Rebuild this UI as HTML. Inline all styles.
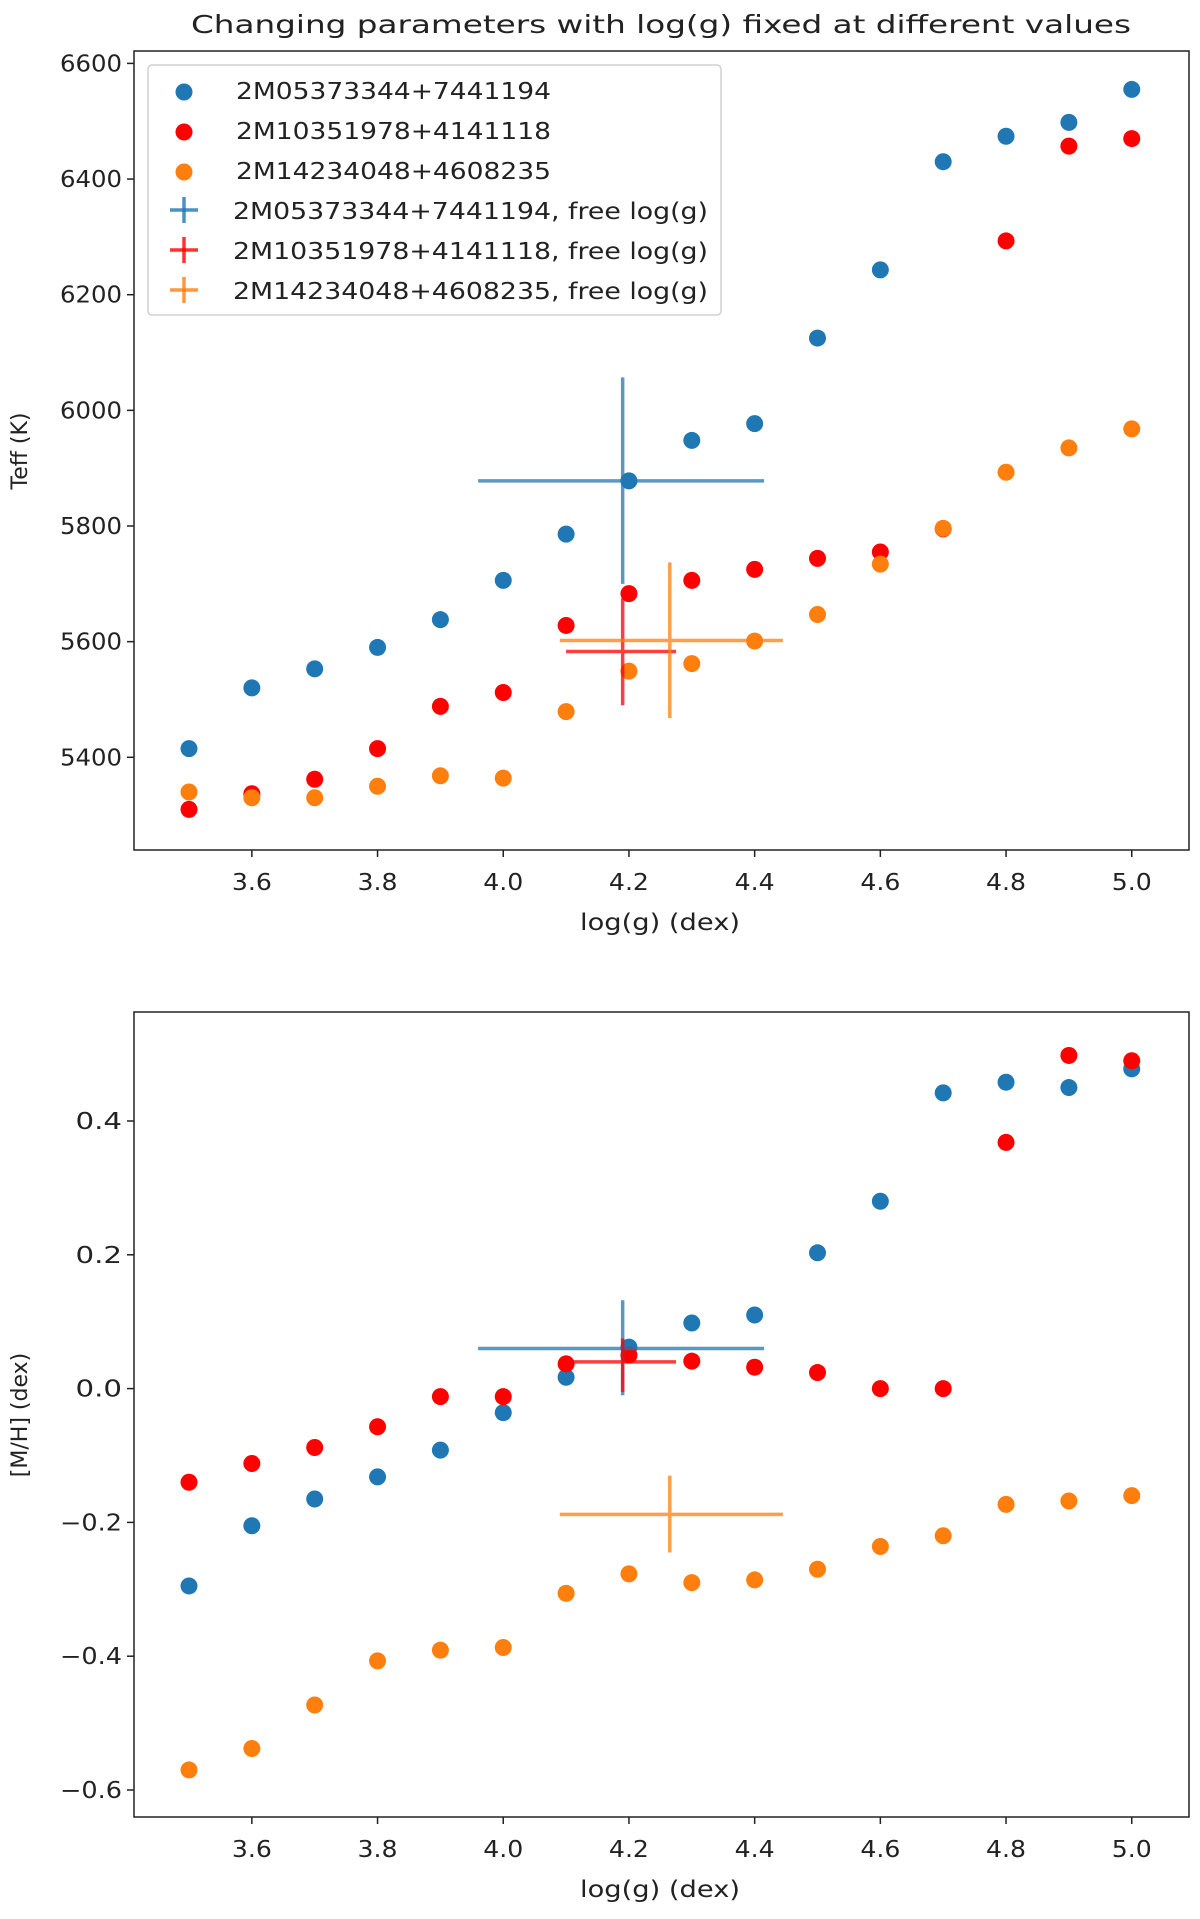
<!DOCTYPE html>
<html><head><meta charset="utf-8"><style>
html,body{margin:0;padding:0;background:#fff}
svg{display:block}
text{font-family:"DejaVu Sans","Liberation Sans",sans-serif;fill:#222}
</style></head>
<body>
<svg id="fig" width="1200" height="1919" viewBox="0 0 1200 1919"></svg>
<script>
const logg = [3.5,3.6,3.7,3.8,3.9,4.0,4.1,4.2,4.3,4.4,4.5,4.6,4.7,4.8,4.9,5.0];
const teffBlue = [5415,5520,5553,5590,5638,5706,5786,5878,5948,5977,6125,6243,6430,6474,6498,6555];
const teffRed = [5310,5337,5362,5415,5488,5512,5628,5683,5706,5725,5744,5755,5795,6293,6457,6470];
const teffOrange = [5340,5330,5330,5350,5368,5364,5479,5549,5562,5601,5647,5734,5796,5893,5935,5968];
const mhBlue = [-0.295,-0.205,-0.165,-0.132,-0.092,-0.036,0.017,0.062,0.098,0.110,0.203,0.280,0.442,0.458,0.450,0.478];
const mhRed = [-0.140,-0.112,-0.088,-0.057,-0.012,-0.012,0.037,0.050,0.041,0.032,0.024,0.000,0.000,0.368,0.498,0.490];
const mhOrange = [-0.570,-0.538,-0.473,-0.407,-0.391,-0.387,-0.306,-0.277,-0.290,-0.286,-0.270,-0.236,-0.220,-0.173,-0.168,-0.160];
// free log(g) fits: [x, xlo, xhi, y, ylo, yhi]
const freeTeffBlue = [4.19,3.96,4.415,5878,5700,6057];
const freeTeffRed = [4.19,4.10,4.275,5583,5490,5675];
const freeTeffOrange = [4.265,4.09,4.445,5602,5468,5737];
const freeMhBlue = [4.19,3.96,4.415,0.060,-0.010,0.132];
const freeMhRed = [4.19,4.10,4.275,0.040,-0.005,0.075];
const freeMhOrange = [4.265,4.09,4.445,-0.188,-0.245,-0.130];
const xTicks = [3.6,3.8,4.0,4.2,4.4,4.6,4.8,5.0];
const teffTicks = [5400,5600,5800,6000,6200,6400,6600];
const mhTicks = [-0.6,-0.4,-0.2,0.0,0.2,0.4];
const names = ["2M05373344+7441194","2M10351978+4141118","2M14234048+4608235"];

const NS="http://www.w3.org/2000/svg";
const svg=document.getElementById('fig');
const C=['#1f77b4','#ff0000','#ff7f0e'];
function mk(tag,attrs,parent){const e=document.createElementNS(NS,tag);for(const k in attrs)e.setAttribute(k,attrs[k]);(parent||svg).appendChild(e);return e;}
const xs=v=>189+(v-3.5)*628.5;

function panel(name,top,bottom,yv0,yp0,yv1,yp1,ticks,fmt,ylabel,ylabelY,series,frees){
  const g=mk('g',{});
  
  
  const ys=v=>yp0+(v-yv0)*(yp1-yp0)/(yv1-yv0);
  xTicks.forEach(t=>{
    const l=mk('line',{x1:xs(t),x2:xs(t),y1:bottom,y2:bottom+7,stroke:'#222','stroke-width':1.5},g);
    
    
    const tx=mk('text',{x:xs(t),y:bottom+40,'text-anchor':'middle','font-size':23,textLength:40,lengthAdjust:'spacingAndGlyphs'},g);
    tx.textContent=t.toFixed(1);
    
    
  });
  ticks.forEach(t=>{
    const y=ys(t);
    const l=mk('line',{x1:134-7,x2:134,y1:y,y2:y,stroke:'#222','stroke-width':1.5},g);
    
    
    const s=fmt(t);
    const tx=mk('text',{x:122,y:y+8,'text-anchor':'end','font-size':23,textLength:s.length*15.5,lengthAdjust:'spacingAndGlyphs'},g);
    tx.textContent=s;
    
    
  });
  const xl=mk('text',{x:660,y:bottom+80,'text-anchor':'middle','font-size':23,textLength:160,lengthAdjust:'spacingAndGlyphs'},g);
  xl.textContent='log(g) (dex)';
  
  
  const yl=mk('text',{x:0,y:0,'text-anchor':'middle','font-size':22,transform:`translate(27,${ylabelY}) rotate(-90)`},g);
  yl.textContent=ylabel;
  
  
  series.forEach((arr,si)=>{
    arr.forEach((v,i)=>{
      const c=mk('circle',{cx:xs(logg[i]),cy:ys(v),r:8.5,fill:C[si]},g);
      
      
    });
  });
  frees.forEach((f,si)=>{
    const e=mk('g',{stroke:C[si],'stroke-width':3.5,opacity:0.75},g);
    
    
    mk('line',{x1:xs(f[1]),x2:xs(f[2]),y1:ys(f[3]),y2:ys(f[3])},e);
    mk('line',{x1:xs(f[0]),x2:xs(f[0]),y1:ys(f[4]),y2:ys(f[5])},e);
  });
  const fr=mk('rect',{x:134,y:top,width:1055,height:bottom-top,fill:'none',stroke:'#222','stroke-width':1.5},g);
  
  
  return g;
}

const title=mk('text',{x:661,y:33,'text-anchor':'middle','font-size':25,textLength:940,lengthAdjust:'spacingAndGlyphs'});
title.textContent='Changing parameters with log(g) fixed at different values';



panel('teff-panel',51,850,5400,757.3,6600,63.4,teffTicks,t=>String(t),'Teff (K)',451,
  [teffBlue,teffRed,teffOrange],[freeTeffBlue,freeTeffRed,freeTeffOrange]);
panel('metallicity-panel',1012,1817,0.4,1121,-0.6,1790,mhTicks,t=>(t<0?'\u22120':'0')+'.'+Math.round(Math.abs(t)*10),'[M/H] (dex)',1415,
  [mhBlue,mhRed,mhOrange],[freeMhBlue,freeMhRed,freeMhOrange]);

// legend
const lg=mk('g',{});


mk('rect',{x:148,y:65,width:573,height:250,rx:4,fill:'#fff',stroke:'#ccc','stroke-width':1.5,opacity:0.9},lg);
const rowsY=[90,130,170,210,250,290];
for(let i=0;i<6;i++){
  const y=rowsY[i], c=C[i%3];
  const en=mk('g',{},lg);
  
  
  if(i<3){ mk('circle',{cx:184,cy:y+2,r:8.5,fill:c},en); }
  else { mk('line',{x1:170,x2:198,y1:y,y2:y,stroke:c,'stroke-width':3.5,opacity:0.8},en);
         mk('line',{x1:184,x2:184,y1:y-13,y2:y+13,stroke:c,'stroke-width':3.5,opacity:0.8},en); }
  const s=names[i%3]+(i<3?'':', free log(g)');
  const t=mk('text',{x:i<3?236:233,y:y+9,'font-size':23,textLength:i<3?315:475,lengthAdjust:'spacingAndGlyphs'},en);
  t.textContent=s;
}
</script>
</body></html>
